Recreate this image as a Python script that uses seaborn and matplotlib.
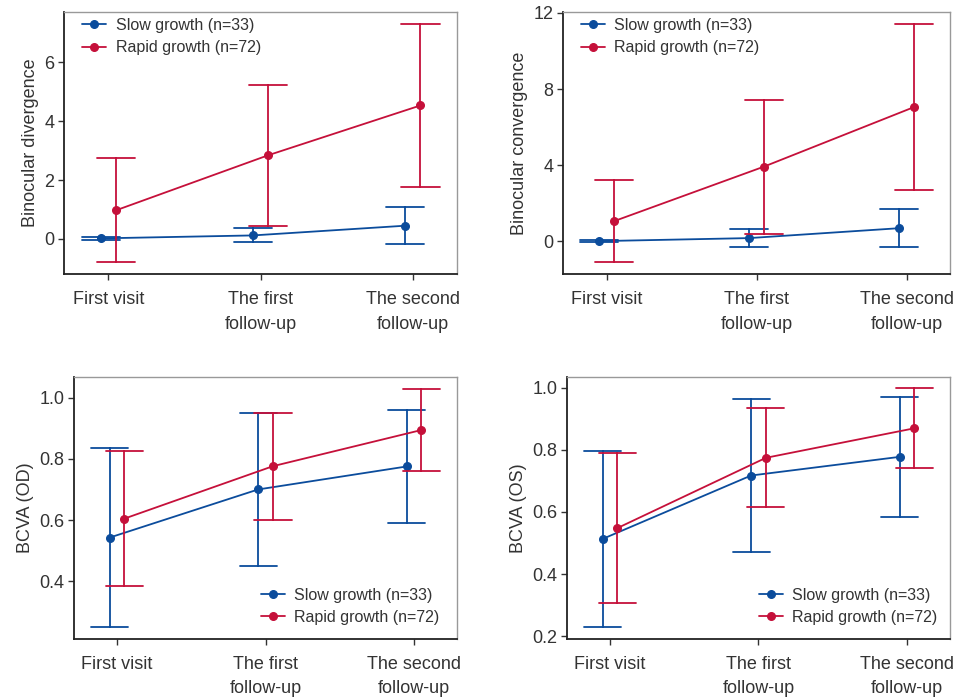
import numpy as np
import pandas as pd
import matplotlib
matplotlib.use("Agg")
import matplotlib.pyplot as plt
import seaborn as sns

# ---------------- data ----------------
visits = ["First visit", "The first\nfollow-up", "The second\nfollow-up"]
groups = ["Slow growth (n=33)", "Rapid growth (n=72)"]

div_slow_mean = [0.02, 0.12, 0.45]
div_slow_sd = [0.05, 0.24, 0.62]
div_rapid_mean = [0.97, 2.84, 4.53]
div_rapid_sd = [1.76, 2.39, 2.78]

conv_slow_mean = [0.00, 0.16, 0.68]
conv_slow_sd = [0.05, 0.47, 1.00]
conv_rapid_mean = [1.05, 3.92, 7.05]
conv_rapid_sd = [2.16, 3.52, 4.38]

od_slow_mean = [0.543, 0.700, 0.775]
od_slow_sd = [0.293, 0.250, 0.184]
od_rapid_mean = [0.605, 0.776, 0.894]
od_rapid_sd = [0.219, 0.175, 0.135]

os_slow_mean = [0.513, 0.717, 0.777]
os_slow_sd = [0.284, 0.247, 0.193]
os_rapid_mean = [0.548, 0.774, 0.869]
os_rapid_sd = [0.240, 0.159, 0.128]

ylabels = ["Binocular divergence", "Binocular convergence", "BCVA (OD)", "BCVA (OS)"]
yticks_list = [[0, 2, 4, 6], [0, 4, 8, 12], [0.4, 0.6, 0.8, 1.0], [0.2, 0.4, 0.6, 0.8, 1.0]]
ylims = [(-1.19, 7.7), (-1.73, 12.05), (0.212, 1.067), (0.191, 1.034)]
legend_locs = ["upper left", "upper left", "lower right", "lower right"]
legend_anchors = [(0.038, 0.989), (0.038, 0.989), (0.963, 0.042), (0.976, 0.042)]

panels = [
    (div_slow_mean, div_slow_sd, div_rapid_mean, div_rapid_sd),
    (conv_slow_mean, conv_slow_sd, conv_rapid_mean, conv_rapid_sd),
    (od_slow_mean, od_slow_sd, od_rapid_mean, od_rapid_sd),
    (os_slow_mean, os_slow_sd, os_rapid_mean, os_rapid_sd),
]


def build_frame(sm, ss, rm, rs):
    rows = []
    for g, means, sds in [(groups[0], sm, ss), (groups[1], rm, rs)]:
        for v, m, s in zip(visits, means, sds):
            rows.append({"visit": v, "group": g, "value": m - s})
            rows.append({"visit": v, "group": g, "value": m + s})
    return pd.DataFrame(rows)


# ---------------- style ----------------
sns.set_theme(style="white")
plt.rcParams["font.family"] = ["Liberation Sans", "DejaVu Sans"]
plt.rcParams["text.color"] = "#333333"
plt.rcParams["axes.labelcolor"] = "#333333"
plt.rcParams["xtick.color"] = "#333333"
plt.rcParams["ytick.color"] = "#333333"

BLUE = "#0b4c9c"
RED = "#c5103a"
palette = {groups[0]: BLUE, groups[1]: RED}

fig = plt.figure(figsize=(9.6, 6.98), dpi=100)
positions = [
    [0.0667, 0.6074, 0.4094, 0.3754],
    [0.5865, 0.6074, 0.4031, 0.3754],
    [0.0771, 0.0845, 0.3990, 0.3754],
    [0.5906, 0.0845, 0.3990, 0.3754],
]

for i, (pos, data) in enumerate(zip(positions, panels)):
    ax = fig.add_axes(pos)
    df = build_frame(*data)
    sns.pointplot(
        data=df, x="visit", y="value", hue="group",
        order=visits, hue_order=groups, palette=palette,
        estimator="mean", errorbar=lambda v: (np.min(v), np.max(v)),
        dodge=0.1, capsize=0.25, markers="o",
        linewidth=1.3, markersize=5.5,
        err_kws={"linewidth": 1.3},
        ax=ax,
    )
    ax.set_xlim(-0.29, 2.29)
    ax.set_ylim(*ylims[i])
    ax.set_yticks(yticks_list[i])
    ax.set_xlabel("")
    ax.set_ylabel(ylabels[i], fontsize=13)
    ax.tick_params(axis="x", labelsize=13, length=4, width=1, pad=8, bottom=True)
    ax.tick_params(axis="y", labelsize=13, length=4, width=1, pad=3, left=True)
    for lab in ax.get_xticklabels():
        lab.set_linespacing(1.6)
    for side in ["left", "bottom"]:
        ax.spines[side].set_color("#222222")
        ax.spines[side].set_linewidth(1.3)
    for side in ["top", "right"]:
        ax.spines[side].set_color("#999999")
        ax.spines[side].set_linewidth(1.0)
    sns.move_legend(
        ax, legend_locs[i], bbox_to_anchor=legend_anchors[i],
        title=None, frameon=False, fontsize=11.5,
        handlelength=1.5, handletextpad=0.6, labelspacing=0.45,
        borderaxespad=0.0, borderpad=0.2,
    )

fig.savefig("out.png", dpi=100)
